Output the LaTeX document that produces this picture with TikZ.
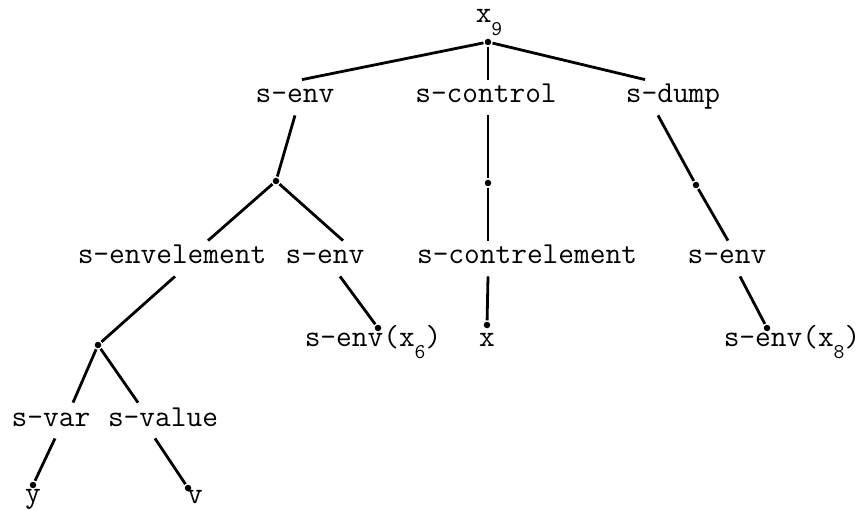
\documentclass[tikz,border=0pt]{standalone}
\usepackage{fontspec}
\tikzset{
every picture/.style={
line width=2.8pt
}}
\newcommand{\idx}[1]{\raisebox{-0.4em}{\fontsize{21}{24}\selectfont #1}}

\begin{document}
\begin{tikzpicture}[x=1pt, y=-1pt,
lbl/.style = {anchor=base, inner sep=0pt, text height=22pt, text depth=11pt,
  font=\fontsize{30.5}{36}\selectfont\ttfamily},
leaf/.style = {lbl, text height=13pt, text depth=6pt},
dot/.style = {circle, fill=black, inner sep=0pt, minimum size=6.5pt}]
\useasboundingbox (0,0) rectangle (861,510);

% labels
\node[leaf] (top) at (489,23) {x\idx{9}};
\node[lbl] (env) at (295,103) {s-env};
\node[lbl] (control) at (486,103) {s-control};
\node[lbl] (dump) at (673,103) {s-dump};
\node[lbl] (envel) at (172,264) {s-envelement};
\node[lbl] (env2) at (325,264) {s-env};
\node[lbl] (contrel) at (527,264) {s-contrelement};
\node[lbl] (env3) at (727,264) {s-env};
\node[leaf] (env6) at (373,346) {s-env(x\idx{6})};
\node[leaf] (xleaf) at (487,346) {x};
\node[leaf] (env8) at (792,346) {s-env(x\idx{8})};
\node[lbl] (var) at (51,426) {s-var};
\node[lbl] (value) at (163,426) {s-value};
\node[leaf] (yleaf) at (33,502) {y};
\node[leaf] (vleaf) at (195,503) {v};

% branching points
\node[dot] (r) at (488,42) {};
\node[dot] (a) at (276,181) {};
\node[dot] (c) at (488,183) {};
\node[dot] (d) at (696,185) {};
\node[dot] (b) at (98,345) {};
\node[dot] (l6) at (378,328) {};
\node[dot] (lx) at (487,325) {};
\node[dot] (l8) at (767,328) {};
\node[dot] (ly) at (33,485) {};
\node[dot] (lv) at (188,488) {};

\draw (r) -- ([xshift=7pt]env.north);
\draw (r) -- ([xshift=2pt]control.north);
\draw (r) -- ([xshift=-28pt]dump.north);

\draw (env.south) -- (a);
\draw (a) -- ([xshift=36pt]envel.north);
\draw (a) -- ([xshift=18pt]env2.north);
\draw ([xshift=2pt]control.south) -- (c) -- ([xshift=-39pt]contrel.north);
\draw ([xshift=-15pt]dump.south) -- (d) -- ([xshift=1pt]env3.north);

\draw ([xshift=3pt]envel.south) -- (b);
\draw (b) -- ([xshift=22pt]var.north);
\draw (b) -- ([xshift=-25pt]value.north);
\draw ([xshift=15pt]env2.south) -- (l6);
\draw ([xshift=-39pt]contrel.south) -- (lx);
\draw ([xshift=13pt]env3.south) -- (l8);

\draw ([xshift=4pt]var.south) -- (ly);
\draw ([xshift=-8pt]value.south) -- (lv);
\end{tikzpicture}
\end{document}
